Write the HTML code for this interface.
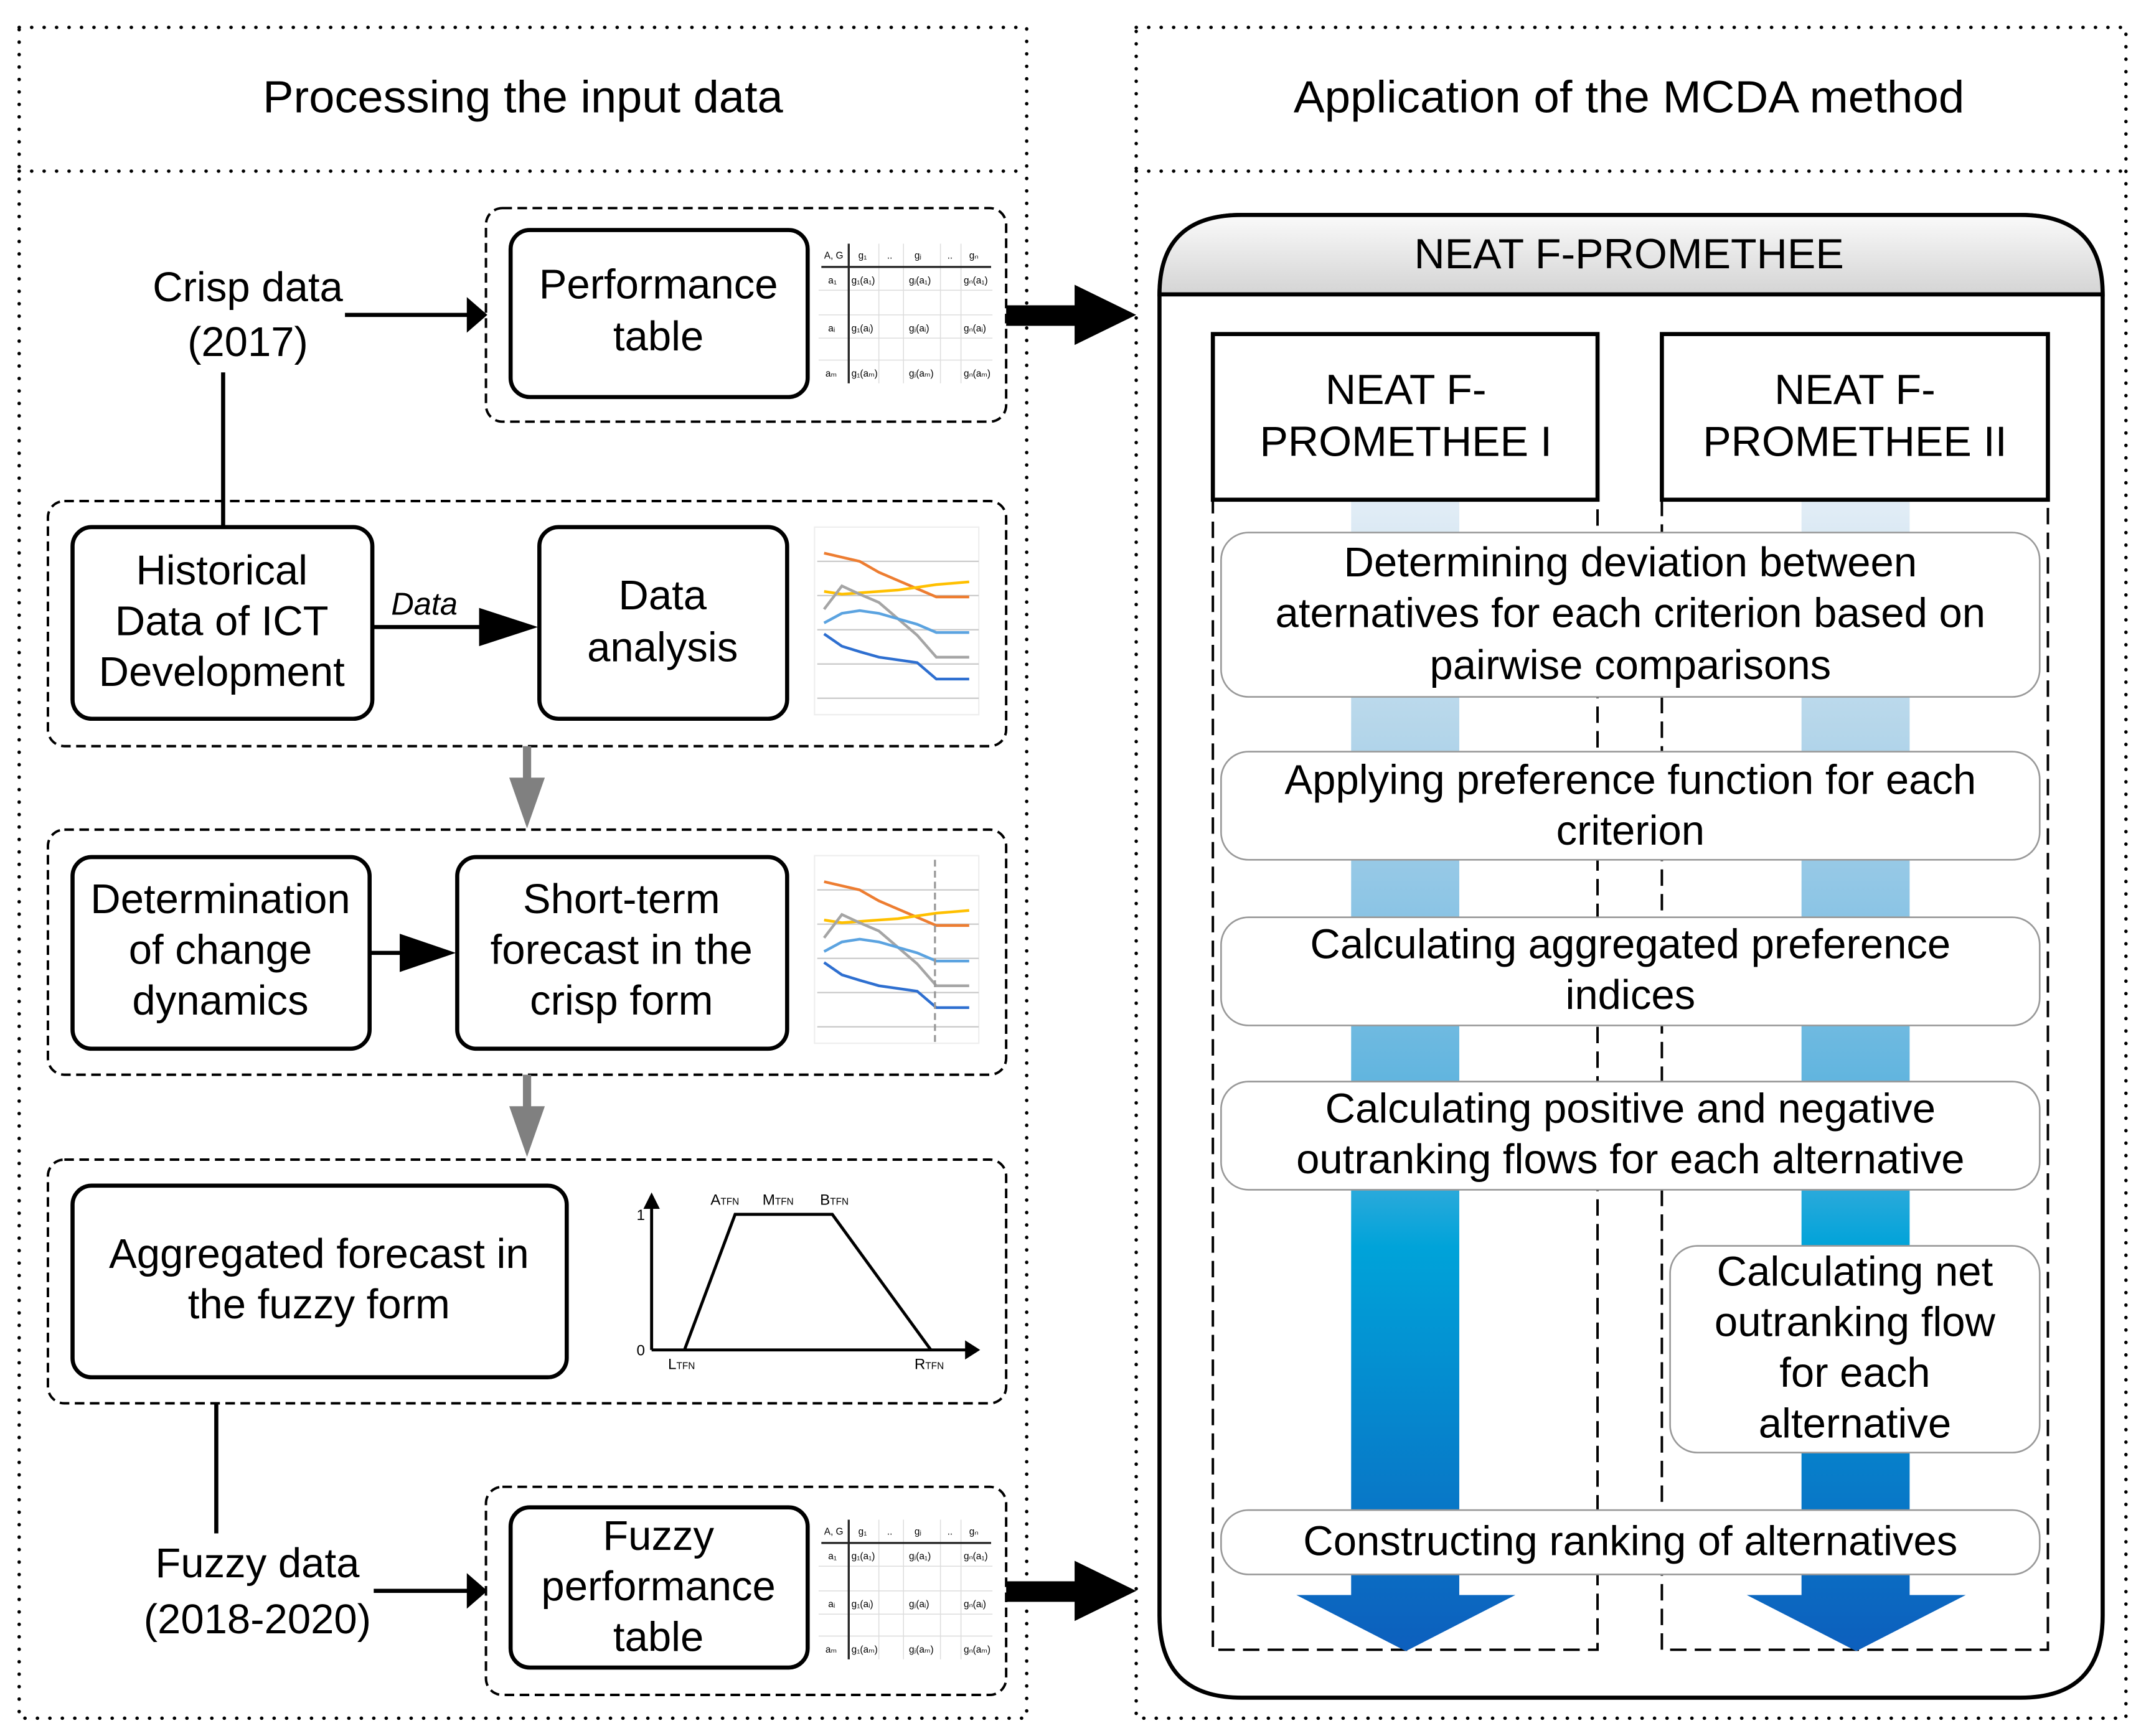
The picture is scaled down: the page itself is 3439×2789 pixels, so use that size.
<!DOCTYPE html>
<html><head><meta charset="utf-8"><style>
html,body{margin:0;padding:0;background:#fff;}
svg{display:block;}
text{font-family:"Liberation Sans",sans-serif;fill:#000;}
</style></head><body>
<svg width="3439" height="2789" viewBox="0 0 1564 1268" preserveAspectRatio="none" xmlns="http://www.w3.org/2000/svg">
<defs>
<linearGradient id="blue" x1="0" y1="365" x2="0" y2="1205" gradientUnits="userSpaceOnUse">
<stop offset="0" stop-color="#e2edf6"/>
<stop offset="0.2" stop-color="#b5d6ea"/>
<stop offset="0.38" stop-color="#86c2e4"/>
<stop offset="0.55" stop-color="#54b0dd"/>
<stop offset="0.65" stop-color="#00a3d9"/>
<stop offset="1" stop-color="#0d5fbd"/>
</linearGradient>
<linearGradient id="hdr" x1="0" y1="0" x2="0" y2="1">
<stop offset="0" stop-color="#fafafa"/>
<stop offset="1" stop-color="#d4d4d4"/>
</linearGradient>
</defs>

<g fill="none" stroke="#000" stroke-width="2.5" stroke-dasharray="0.1 9" stroke-linecap="round">
<rect x="14" y="20" width="736" height="1235"/>
<line x1="14" y1="125" x2="750" y2="125"/>
<rect x="830" y="20" width="723" height="1235"/>
<line x1="830" y1="125" x2="1553" y2="125"/>
</g>
<text x="382" y="82" font-size="33" text-anchor="middle" textLength="380" lengthAdjust="spacingAndGlyphs">Processing the input data</text>
<text x="1190" y="82" font-size="33" text-anchor="middle" textLength="490" lengthAdjust="spacingAndGlyphs">Application of the MCDA method</text>

<g fill="none" stroke="#000" stroke-width="1.8" stroke-dasharray="7 4">
<rect x="355" y="152" width="380" height="156" rx="12"/>
<rect x="35" y="366" width="700" height="179" rx="12"/>
<rect x="35" y="606" width="700" height="179" rx="12"/>
<rect x="35" y="847" width="700" height="178" rx="12"/>
<rect x="355" y="1086" width="380" height="152" rx="12"/>
</g>

<g fill="#fff" stroke="#000" stroke-width="3">
<rect x="373" y="168" width="217" height="122" rx="14"/>
<rect x="53" y="385" width="219" height="140" rx="14"/>
<rect x="394" y="385" width="181" height="140" rx="14"/>
<rect x="53" y="626" width="217" height="140" rx="14"/>
<rect x="334" y="626" width="241" height="140" rx="14"/>
<rect x="53" y="866" width="361" height="140" rx="14"/>
<rect x="373" y="1101" width="217" height="117" rx="14"/>
</g>
<g font-size="30.5" text-anchor="middle">
<text x="481" y="218">Performance</text><text x="481" y="256">table</text>
<text x="162" y="427">Historical</text><text x="162" y="464">Data of ICT</text><text x="162" y="501">Development</text>
<text x="484" y="445">Data</text><text x="484" y="483">analysis</text>
<text x="161" y="667">Determination</text><text x="161" y="704">of change</text><text x="161" y="741">dynamics</text>
<text x="454" y="667">Short-term</text><text x="454" y="704">forecast in the</text><text x="454" y="741">crisp form</text>
<text x="233" y="926">Aggregated forecast in</text><text x="233" y="963">the fuzzy form</text>
<text x="481" y="1132">Fuzzy</text><text x="481" y="1169">performance</text><text x="481" y="1206">table</text>
<text x="181" y="220">Crisp data</text><text x="181" y="260">(2017)</text>
<text x="188" y="1152">Fuzzy data</text><text x="188" y="1193">(2018-2020)</text>
</g>
<text x="310" y="449" font-size="23" font-style="italic" text-anchor="middle">Data</text>

<g stroke="#000" stroke-width="3" fill="none">
<line x1="252" y1="230" x2="342" y2="230"/>
<line x1="163" y1="272" x2="163" y2="385"/>
<line x1="272" y1="458" x2="355" y2="458"/>
<line x1="270" y1="696" x2="295" y2="696"/>
<line x1="158" y1="1025" x2="158" y2="1120"/>
<line x1="273" y1="1162" x2="342" y2="1162"/>
</g>
<g fill="#000">
<polygon points="341,217 356,230 341,243"/>
<polygon points="350,444 393,458 350,472"/>
<polygon points="292,682 333,696 292,710"/>
<polygon points="341,1149 356,1162 341,1175"/>
<rect x="735" y="223" width="52" height="15"/><polygon points="785,208 830,230 785,252"/>
<rect x="735" y="1155" width="52" height="15"/><polygon points="785,1140 830,1162 785,1184"/>
</g>
<g fill="#808080">
<rect x="382" y="545" width="6" height="25"/><polygon points="372,568 398,568 385,605"/>
<rect x="382" y="785" width="6" height="25"/><polygon points="372,808 398,808 385,845"/>
</g>

<g id="tbl" font-size="7" fill="#444">
<rect x="598" y="175" width="127" height="105" fill="#fff"/>
<g stroke="#ddd" stroke-width="0.7">
<line x1="598" y1="212" x2="725" y2="212"/><line x1="598" y1="230" x2="725" y2="230"/><line x1="598" y1="247" x2="725" y2="247"/><line x1="598" y1="263" x2="725" y2="263"/>
<line x1="642" y1="178" x2="642" y2="280"/><line x1="660" y1="178" x2="660" y2="280"/><line x1="687" y1="178" x2="687" y2="280"/><line x1="702" y1="178" x2="702" y2="280"/>
</g>
<line x1="600" y1="195" x2="724" y2="195" stroke="#222" stroke-width="1.5"/>
<line x1="620" y1="178" x2="620" y2="280" stroke="#222" stroke-width="1.5"/>
<text x="602" y="189">A, G</text><text x="627" y="189">g₁</text><text x="648" y="189">..</text><text x="668" y="189">gⱼ</text><text x="692" y="189">..</text><text x="708" y="189">gₙ</text>
<text x="605" y="207">a₁</text><text x="622" y="207">g₁(a₁)</text><text x="664" y="207">gⱼ(a₁)</text><text x="704" y="207">gₙ(a₁)</text>
<text x="605" y="242">aᵢ</text><text x="622" y="242">g₁(aᵢ)</text><text x="664" y="242">gⱼ(aᵢ)</text><text x="704" y="242">gₙ(aᵢ)</text>
<text x="603" y="275">aₘ</text><text x="622" y="275">g₁(aₘ)</text><text x="664" y="275">gⱼ(aₘ)</text><text x="704" y="275">gₙ(aₘ)</text>
</g>
<use href="#tbl" transform="translate(0,932)"/>

<g id="ch1">
<rect x="595" y="385" width="120" height="137" fill="#fff" stroke="#eee"/>
<g stroke="#c8c8c8" stroke-width="1"><line x1="597" y1="410" x2="715" y2="410"/><line x1="597" y1="435" x2="715" y2="435"/><line x1="597" y1="460" x2="715" y2="460"/><line x1="597" y1="485" x2="715" y2="485"/><line x1="597" y1="510" x2="715" y2="510"/></g>
<g fill="none" stroke-width="2">
<polyline stroke="#ed7d31" points="602,404 615,407 628,410 642,418 656,424 670,430 684,436 708,436"/>
<polyline stroke="#ffc000" points="602,432 615,434 628,433 642,432 656,431 670,429 684,427 708,425"/>
<polyline stroke="#a5a5a5" points="602,445 615,428 628,434 642,440 656,452 670,464 684,480 708,480"/>
<polyline stroke="#5ba3e0" points="602,455 615,448 628,446 642,448 656,452 670,456 684,462 708,462"/>
<polyline stroke="#2e6fd0" points="602,463 615,472 628,476 642,480 656,482 670,484 684,496 708,496"/>
</g>
</g>
<use href="#ch1" transform="translate(0,240)"/>
<line x1="683" y1="628" x2="683" y2="764" stroke="#999" stroke-width="1.5" stroke-dasharray="5 3"/>

<g stroke="#000" stroke-width="2.2" fill="none">
<line x1="476" y1="986" x2="476" y2="880"/>
<line x1="476" y1="986" x2="708" y2="986"/>
<polyline points="500,986 537,887 608,887 680,986"/>
</g>
<polygon points="470,883 476,871 482,883" fill="#000"/>
<polygon points="705,979 716,986 705,993" fill="#000"/>
<g font-size="11" fill="#333">
<text x="465" y="891">1</text><text x="465" y="990">0</text>
<text x="519" y="880">A<tspan font-size="7">TFN</tspan></text>
<text x="557" y="880">M<tspan font-size="7">TFN</tspan></text>
<text x="599" y="880">B<tspan font-size="7">TFN</tspan></text>
<text x="488" y="1000">L<tspan font-size="7">TFN</tspan></text>
<text x="668" y="1000">R<tspan font-size="7">TFN</tspan></text>
</g>

<path d="M847,1180 V217 Q847,157 907,157 H1476 Q1536,157 1536,217 V1180 Q1536,1240 1476,1240 H907 Q847,1240 847,1180 Z" fill="#fff" stroke="#000" stroke-width="3"/>
<path d="M847,215 Q847,157 907,157 H1476 Q1536,157 1536,215 Z" fill="url(#hdr)" stroke="#000" stroke-width="3"/>
<text x="1190" y="196" font-size="31" text-anchor="middle">NEAT F-PROMETHEE</text>

<g fill="none" stroke="#000" stroke-width="1.8" stroke-dasharray="12 6">
<rect x="886" y="365" width="281" height="840"/>
<rect x="1214" y="365" width="282" height="840"/>
</g>
<rect x="987" y="365" width="79" height="802" fill="url(#blue)"/>
<polygon points="947,1165 1107,1165 1027,1206" fill="url(#blue)"/>
<rect x="1316" y="365" width="79" height="802" fill="url(#blue)"/>
<polygon points="1276,1165 1436,1165 1356,1206" fill="url(#blue)"/>

<g fill="#fff" stroke="#000" stroke-width="3">
<rect x="886" y="244" width="281" height="121"/>
<rect x="1214" y="244" width="282" height="121"/>
</g>
<g font-size="31" text-anchor="middle">
<text x="1027" y="295">NEAT F-</text><text x="1027" y="333">PROMETHEE I</text>
<text x="1355" y="295">NEAT F-</text><text x="1355" y="333">PROMETHEE II</text>
</g>

<g fill="#fff" stroke="#999" stroke-width="1.2">
<rect x="892" y="389" width="598" height="120" rx="20"/>
<rect x="892" y="549" width="598" height="79" rx="20"/>
<rect x="892" y="670" width="598" height="79" rx="20"/>
<rect x="892" y="790" width="598" height="79" rx="20"/>
<rect x="1220" y="910" width="270" height="151" rx="20"/>
<rect x="892" y="1103" width="598" height="47" rx="20"/>
</g>
<g font-size="30.5" text-anchor="middle">
<text x="1191" y="421">Determining deviation between</text>
<text x="1191" y="458">aternatives for each criterion based on</text>
<text x="1191" y="496">pairwise comparisons</text>
<text x="1191" y="580">Applying preference function for each</text>
<text x="1191" y="617">criterion</text>
<text x="1191" y="700">Calculating aggregated preference</text>
<text x="1191" y="737">indices</text>
<text x="1191" y="820">Calculating positive and negative</text>
<text x="1191" y="857">outranking flows for each alternative</text>
<text x="1355" y="939">Calculating net</text>
<text x="1355" y="976">outranking flow</text>
<text x="1355" y="1013">for each</text>
<text x="1355" y="1050">alternative</text>
<text x="1191" y="1136">Constructing ranking of alternatives</text>
</g>
</svg>
</body></html>
